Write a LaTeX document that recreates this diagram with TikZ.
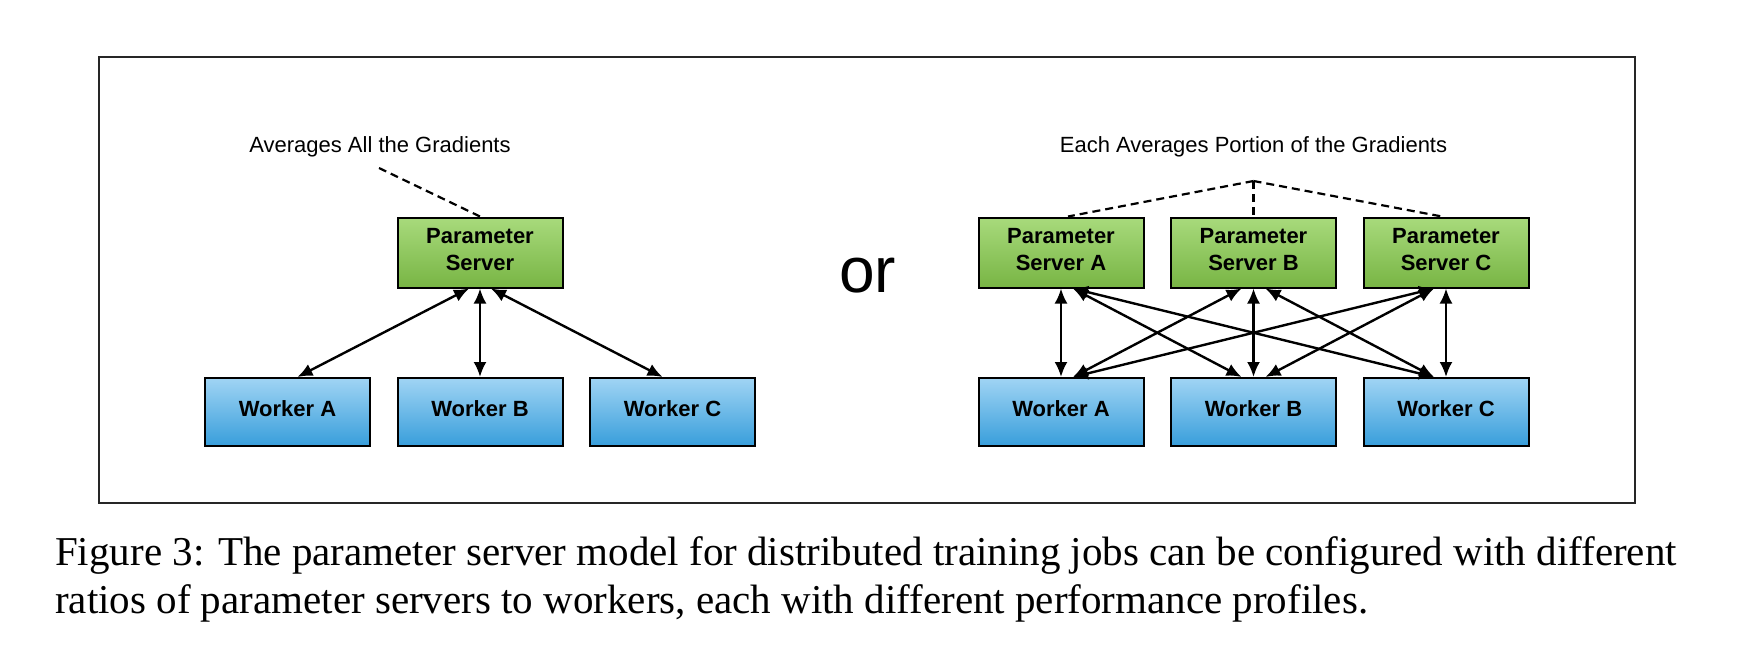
\documentclass[tikz,border=0pt]{standalone}
\usepackage{fontspec}
\setmainfont{Liberation Sans}
\newfontfamily\capfont{Liberation Serif}
\usetikzlibrary{arrows.meta}
\definecolor{psTop}{RGB}{168,218,124}
\definecolor{psBot}{RGB}{120,181,68}
\definecolor{wTop}{RGB}{160,212,244}
\definecolor{wBot}{RGB}{56,158,219}
\begin{document}
\begin{tikzpicture}[x=1pt,y=-1pt,
  psbox/.style={draw=black, line width=2pt, top color=psTop, bottom color=psBot,
    minimum width=165pt, minimum height=70pt, inner sep=0pt, align=center,
    text depth=6.5pt, font=\fontsize{22}{27}\selectfont\bfseries},
  wbox/.style={draw=black, line width=2pt, top color=wTop, bottom color=wBot,
    minimum width=165pt, minimum height=68pt, inner sep=0pt, align=center,
    text depth=6.5pt, font=\fontsize{22}{27}\selectfont\bfseries},
  link/.style={{Latex[length=15pt,width=13pt]}-{Latex[length=15pt,width=13pt]}, line width=2.4pt},
  note/.style={dash pattern=on 8pt off 5pt, line width=2.2pt},
  lbl/.style={font=\fontsize{22}{26}\selectfont, anchor=base, inner sep=0pt},
  captext/.style={font=\capfont\fontsize{41}{48}\selectfont, anchor=base west, inner sep=0pt}
]
\useasboundingbox (0,0) rectangle (1738,656);
\node[draw=black!85, line width=1.5pt, minimum width=1536pt, minimum height=446pt, inner sep=0pt] (frame) at (867,280) {};

% left
\node[psbox] (ps) at (480,252.5) {Parameter\\Server};
\node[wbox] (wa) at (287.5,412) {Worker A};
\node[wbox] (wb) at (480,412) {Worker B};
\node[wbox] (wc) at (672.5,412) {Worker C};
\node[lbl] (l1) at (380,152) {Averages All the Gradients};
\coordinate (n1) at (379,168);
\draw[note] (n1) -- (ps.north);
\draw[link] ([xshift=-11pt]ps.south) -- ([xshift=10pt]wa.north);
\draw[link] (ps.south) -- (wb.north);
\draw[link] ([xshift=11pt]ps.south) -- ([xshift=-10pt]wc.north);

\node[font=\fontsize{64}{70}\selectfont, anchor=base, inner sep=0pt] (or) at (867.5,292) {or};

% right
\node[psbox] (psa) at (1061,252.5) {Parameter\\Server A};
\node[psbox] (psb) at (1253.5,252.5) {Parameter\\Server B};
\node[psbox] (psc) at (1446,252.5) {Parameter\\Server C};
\node[wbox] (rwa) at (1061,412) {Worker A};
\node[wbox] (rwb) at (1253.5,412) {Worker B};
\node[wbox] (rwc) at (1446,412) {Worker C};
\node[lbl] (l2) at (1253.5,152) {Each Averages Portion of the Gradients};
\coordinate (n2) at (1253.5,181);
\draw[note] (n2) -- ([xshift=7pt]psa.north);
\draw[note] (n2) -- (psb.north);
\draw[note] (n2) -- ([xshift=-4pt]psc.north);

\draw[link] (psa.south) -- (rwa.north);
\draw[link] (psb.south) -- (rwb.north);
\draw[link] (psc.south) -- (rwc.north);
\draw[link] ([xshift=12pt]psa.south) -- ([xshift=-12pt]rwb.north);
\draw[link] ([xshift=12pt]psa.south) -- ([xshift=-12pt]rwc.north);
\draw[link] ([xshift=-12pt]psb.south) -- ([xshift=12pt]rwa.north);
\draw[link] ([xshift=12pt]psb.south) -- ([xshift=-12pt]rwc.north);
\draw[link] ([xshift=-12pt]psc.south) -- ([xshift=12pt]rwa.north);
\draw[link] ([xshift=-12pt]psc.south) -- ([xshift=12pt]rwb.north);

% caption
\node[captext] (cap1) at (55,565) {Figure 3: The parameter server model for distributed training jobs can be configured with different};
\node[captext] (cap2) at (55,613) {ratios of parameter servers to workers, each with different performance profiles.};
\end{tikzpicture}
\end{document}
